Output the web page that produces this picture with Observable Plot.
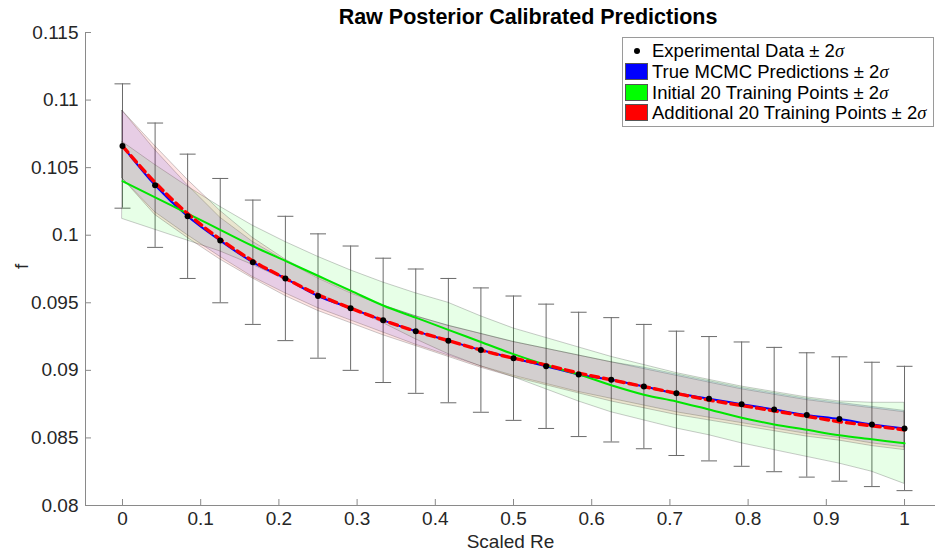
<!DOCTYPE html>
<html>
<head>
<meta charset="utf-8">
<script src="https://cdn.jsdelivr.net/npm/d3@7"></script>
<script src="https://cdn.jsdelivr.net/npm/@observablehq/plot@0.6"></script>
<style>
  body { margin: 0; background: #fff; font-family: "Liberation Sans", Arial, Helvetica, sans-serif; }
  #wrap { position: relative; width: 935px; height: 550px; overflow: hidden; }
  #title { height: 22px; padding-left: 121px; text-align: center; font-weight: bold; font-size: 21.5px; position: relative; z-index: 2; color: #000; white-space: nowrap; }
  #title span { position: relative; top: 5px; }
  #legend { position: absolute; left: 622px; top: 37px; width: 310px; height: 88px; border: 1px solid #9a9a9a; background: #fff; z-index: 3; font-size: 18.5px; color: #000; }
  .row { position: absolute; left: 0; height: 21px; line-height: 21px; white-space: nowrap; }
  .patch { position: absolute; left: 2px; top: 2px; width: 23px; height: 17px; box-sizing: border-box; border: 1px solid #555; }
  .lab { position: absolute; left: 29px; top: 0; }
  .dotk { position: absolute; left: 11px; top: 8px; width: 6px; height: 6px; border-radius: 50%; background: #000; }
  .sig { font-family: "Liberation Serif", "DejaVu Serif", serif; font-style: italic; }
</style>
</head>
<body>
<div id="wrap">
  <div id="title"><span>Raw Posterior Calibrated Predictions</span></div>
  <div id="chart"></div>
  <div id="legend"></div>
</div>
<script>
// ---------- data ----------
const scaledRe = [0, 0.0417, 0.0833, 0.125, 0.1667, 0.2083, 0.25, 0.2917, 0.3333, 0.375, 0.4167, 0.4583,
  0.5, 0.5417, 0.5833, 0.625, 0.6667, 0.7083, 0.75, 0.7917, 0.8333, 0.875, 0.9167, 0.9583, 1];

const expF = [0.1066, 0.1037, 0.1014, 0.0996, 0.0980, 0.0968, 0.0955, 0.0946, 0.0937, 0.0929, 0.0922, 0.0915,
  0.0909, 0.0903, 0.0897, 0.0893, 0.0888, 0.0883, 0.0879, 0.0875, 0.0871, 0.0867, 0.0864, 0.0860, 0.0857];
const expErr = [0.0046, 0.0046, 0.0046, 0.0046, 0.0046, 0.0046, 0.0046, 0.0046, 0.0046, 0.0046, 0.0046, 0.0046,
  0.0046, 0.0046, 0.0046, 0.0046, 0.0046, 0.0046, 0.0046, 0.0046, 0.0046, 0.0046, 0.0046, 0.0046, 0.0046];

const trueMean = [0.1066, 0.1037, 0.1014, 0.0996, 0.0980, 0.0968, 0.0955, 0.0946, 0.0937, 0.0929, 0.0922, 0.0915,
  0.0909, 0.0903, 0.0897, 0.0893, 0.0888, 0.0883, 0.0879, 0.0875, 0.0871, 0.0867, 0.0864, 0.0860, 0.0857];
const trueUpper = [0.1092, 0.1063, 0.1037, 0.1013, 0.0995, 0.0981, 0.0968, 0.0957, 0.0948, 0.0940, 0.0933, 0.0927,
  0.0921, 0.0916, 0.0911, 0.0906, 0.0902, 0.0897, 0.0892, 0.0887, 0.0883, 0.0879, 0.0876, 0.0873, 0.0870];
const trueLower = [0.1042, 0.1017, 0.1000, 0.0984, 0.0969, 0.0957, 0.0946, 0.0937, 0.0928, 0.0919, 0.0911, 0.0903,
  0.0896, 0.0890, 0.0884, 0.0879, 0.0874, 0.0869, 0.0865, 0.0861, 0.0857, 0.0853, 0.0850, 0.0846, 0.0843];

const initMean = [0.1040, 0.1028, 0.1016, 0.1004, 0.0992, 0.0981, 0.0970, 0.0959, 0.0948, 0.0939, 0.0930, 0.0921,
  0.0912, 0.0904, 0.0897, 0.0889, 0.0882, 0.0877, 0.0871, 0.0865, 0.0860, 0.0856, 0.0852, 0.0849, 0.0846];
const initUpper = [0.1069, 0.1052, 0.1036, 0.1021, 0.1007, 0.0995, 0.0984, 0.0974, 0.0965, 0.0957, 0.0950, 0.0940,
  0.0931, 0.0924, 0.0917, 0.0910, 0.0904, 0.0898, 0.0893, 0.0888, 0.0884, 0.0880, 0.0877, 0.0876, 0.0876];
const initLower = [0.1012, 0.1004, 0.0996, 0.0988, 0.0978, 0.0967, 0.0957, 0.0946, 0.0935, 0.0923, 0.0912, 0.0903,
  0.0895, 0.0886, 0.0877, 0.0869, 0.0863, 0.0857, 0.0852, 0.0846, 0.0841, 0.0836, 0.0831, 0.0825, 0.0816];

const addMean = [0.1066, 0.1039, 0.1016, 0.0997, 0.0981, 0.0968, 0.0956, 0.0946, 0.0937, 0.0929, 0.0922, 0.0915,
  0.0909, 0.0904, 0.0898, 0.0893, 0.0888, 0.0883, 0.0878, 0.0874, 0.0870, 0.0866, 0.0862, 0.0859, 0.0856];
const addUpper = [0.1092, 0.1066, 0.1041, 0.1018, 0.0998, 0.0982, 0.0969, 0.0958, 0.0948, 0.0940, 0.0933, 0.0927,
  0.0921, 0.0916, 0.0911, 0.0906, 0.0901, 0.0896, 0.0891, 0.0886, 0.0882, 0.0878, 0.0875, 0.0872, 0.0869];
const addLower = [0.1042, 0.1015, 0.0998, 0.0982, 0.0968, 0.0955, 0.0944, 0.0935, 0.0926, 0.0918, 0.0910, 0.0902,
  0.0895, 0.0889, 0.0883, 0.0877, 0.0872, 0.0867, 0.0863, 0.0859, 0.0855, 0.0851, 0.0848, 0.0844, 0.0841];

const xTicks = [0, 0.1, 0.2, 0.3, 0.4, 0.5, 0.6, 0.7, 0.8, 0.9, 1];
const xTickLabels = ["0", "0.1", "0.2", "0.3", "0.4", "0.5", "0.6", "0.7", "0.8", "0.9", "1"];
const yTicks = [0.08, 0.085, 0.09, 0.095, 0.1, 0.105, 0.11, 0.115];
const yTickLabels = ["0.08", "0.085", "0.09", "0.095", "0.1", "0.105", "0.11", "0.115"];

const xDomain = [-0.0473, 1.0396];
const yDomain = [0.08, 0.115];

const legendItems = [
  {kind: "dot", label: "Experimental Data"},
  {kind: "patch", color: "#0000ff", label: "True MCMC Predictions"},
  {kind: "patch", color: "#00ff00", label: "Initial 20 Training Points"},
  {kind: "patch", color: "#ff0000", label: "Additional 20 Training Points"}
];

// ---------- table ----------
const rows = scaledRe.map((x, i) => ({
  x, f: expF[i], lo: expF[i] - expErr[i], hi: expF[i] + expErr[i],
  tm: trueMean[i], tu: trueUpper[i], tl: trueLower[i],
  im: initMean[i], iu: initUpper[i], il: initLower[i],
  am: addMean[i], au: addUpper[i], al: addLower[i]
}));

// horizontal cap symbol for error bars (half-length = r)
const capSymbol = {
  draw(context, size) {
    const w = Math.sqrt(size / Math.PI);
    context.moveTo(-w, 0);
    context.lineTo(w, 0);
  }
};

const edge = {stroke: "#222", strokeOpacity: 0.3, strokeWidth: 0.8};

const chart = Plot.plot({
  width: 935,
  height: 528,
  marginLeft: 85,
  marginRight: 0,
  marginTop: 10,
  marginBottom: 45,
  style: {background: "transparent", overflow: "visible", fontFamily: "'Liberation Sans', Arial, sans-serif", color: "#262626"},
  x: {domain: xDomain},
  y: {domain: yDomain},
  marks: [
    // error bars
    Plot.ruleX(rows, {x: "x", y1: "lo", y2: "hi", stroke: "#6a6a6a", strokeWidth: 1}),
    Plot.dot(rows, {x: "x", y: "lo", symbol: capSymbol, r: 8, stroke: "#6a6a6a", fill: "none", strokeWidth: 1}),
    Plot.dot(rows, {x: "x", y: "hi", symbol: capSymbol, r: 8, stroke: "#6a6a6a", fill: "none", strokeWidth: 1}),
    // bands
    Plot.areaY(rows, {x: "x", y1: "tl", y2: "tu", fill: "#0000ff", fillOpacity: 0.1, ...edge}),
    Plot.areaY(rows, {x: "x", y1: "il", y2: "iu", fill: "#00ff00", fillOpacity: 0.095, ...edge}),
    Plot.areaY(rows, {x: "x", y1: "al", y2: "au", fill: "#ff0000", fillOpacity: 0.1, ...edge}),
    // mean lines
    Plot.line(rows, {x: "x", y: "tm", stroke: "#0000ff", strokeWidth: 2, curve: "monotone-x"}),
    Plot.line(rows, {x: "x", y: "im", stroke: "#00e600", strokeWidth: 2, curve: "monotone-x"}),
    Plot.line(rows, {x: "x", y: "am", stroke: "#ff0000", strokeWidth: 3.4, strokeDasharray: "8,5", curve: "monotone-x"}),
    // data points
    Plot.dot(rows, {x: "x", y: "f", r: 3, fill: "#000", stroke: "none"}),
    // axes
    Plot.ruleX([xDomain[0]], {stroke: "#8a8a8a"}),
    Plot.ruleY([yDomain[0]], {stroke: "#8a8a8a"}),
    Plot.axisX(xTicks, {tickSize: -6, tickPadding: 12, tickFormat: d => xTickLabels[xTicks.indexOf(d)], fontSize: 19, stroke: "#8a8a8a", fill: "#262626", label: null}),
    Plot.axisY(yTicks, {tickSize: -6, tickPadding: 13, tickFormat: d => yTickLabels[yTicks.indexOf(d)], fontSize: 19, stroke: "#8a8a8a", fill: "#262626", label: null}),
    Plot.text(["Scaled Re"], {frameAnchor: "bottom", dy: 42, fontSize: 19, fill: "#262626"}),
    Plot.text(["f"], {frameAnchor: "left", dx: -64, rotate: -90, fontSize: 19, fill: "#262626"})
  ]
});
document.getElementById("chart").appendChild(chart);

// ---------- legend ----------
const legend = document.getElementById("legend");
const rowTops = [2, 23, 44, 64];
legendItems.forEach((it, i) => {
  const r = document.createElement("div");
  r.className = "row";
  r.style.top = rowTops[i] + "px";
  const mark = document.createElement("div");
  if (it.kind === "dot") { mark.className = "dotk"; }
  else { mark.className = "patch"; mark.style.background = it.color; }
  r.appendChild(mark);
  const t = document.createElement("span");
  t.className = "lab";
  t.innerHTML = it.label + " &plusmn; 2<span class=\"sig\">&sigma;</span>";
  r.appendChild(t);
  legend.appendChild(r);
});
</script>
</body>
</html>
